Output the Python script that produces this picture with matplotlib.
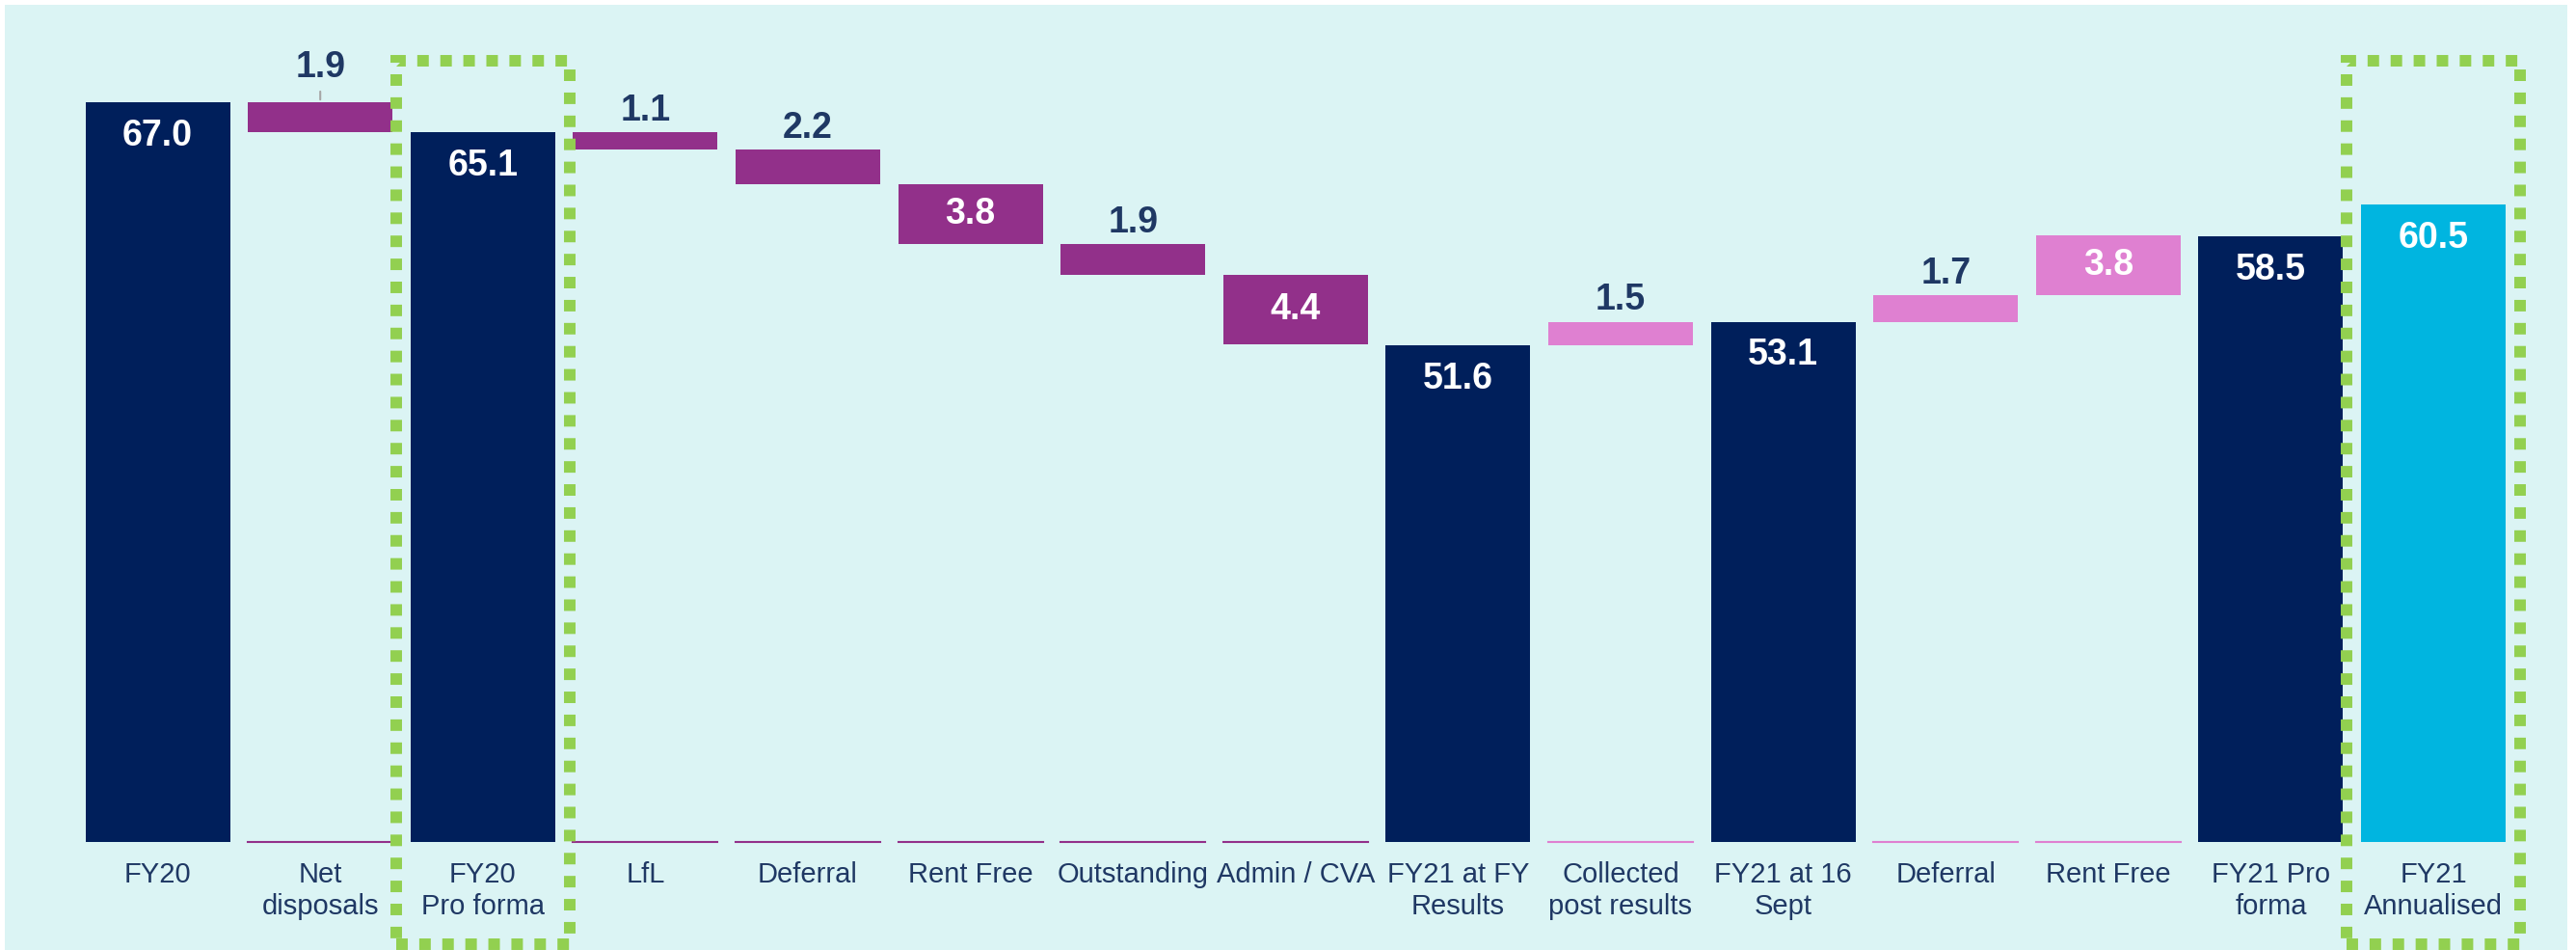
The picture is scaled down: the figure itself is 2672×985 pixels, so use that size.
import matplotlib.pyplot as plt
from matplotlib.patches import Rectangle
import numpy as np

plt.rcParams['font.family'] = ['Liberation Sans', 'DejaVu Sans']

# data
categories = ["FY20", "Net\ndisposals", "FY20\nPro forma", "LfL", "Deferral", "Rent Free",
              "Outstanding", "Admin / CVA", "FY21 at FY\nResults", "Collected\npost results",
              "FY21 at 16\nSept", "Deferral", "Rent Free", "FY21 Pro\nforma", "FY21\nAnnualised"]
values = [67.0, -1.9, 65.1, -1.1, -2.2, -3.8, -1.9, -4.4, 51.6, 1.5, 53.1, 1.7, 3.8, 58.5, 60.5]
kinds = ["total", "down", "total", "down", "down", "down", "down", "down", "total",
         "up", "total", "up", "up", "total", "annual"]
highlighted = [2, 14]

axis_min = 20.2

colors = {"total": "#001F5B", "down": "#92308A", "up": "#DF80D1", "annual": "#00B5E0"}
text_dark = "#1F3864"
bg = "#DBF4F4"
green = "#92D050"

W, H = 2672, 985
fig = plt.figure(figsize=(W / 100, H / 100), dpi=100)
fig.patches.append(Rectangle((5 / W, 0), 2658 / W, 980 / H, transform=fig.transFigure,
                             facecolor=bg, edgecolor="none", zorder=-10))

ax = fig.add_axes([0, 0, 1, 1])
ax.set_facecolor("none")
for s in ax.spines.values():
    s.set_visible(False)
ax.set_xticks([])
ax.set_yticks([])

# pixel mapping: bar centres 163.6 + 168.6*i, 16.38 px per unit, value 67 at px 106
slot = 168.6
ax.set_xlim(-163.6 / slot, (W - 163.6) / slot)
ppu = 16.38
ax.set_ylim(67 - (H - 106) / ppu, 67 + 106 / ppu)

x = np.arange(len(categories))
width = 0.89
vsize = 27
level = 0
for i, (v, k) in enumerate(zip(values, kinds)):
    c = colors[k]
    if k in ("total", "annual"):
        level = v
        ax.bar(i, v - axis_min, bottom=axis_min, width=width, color=c, zorder=2)
        ax.annotate(f"{v:.1f}", (i, v), xytext=(0, -25), textcoords="offset points",
                    ha="center", va="center", color="white", fontsize=vsize, fontweight="bold", zorder=4)
    else:
        lo = level + v if v < 0 else level
        hi = lo + abs(v)
        level = level + v
        ax.bar(i, hi - lo, bottom=lo, width=width, color=c, zorder=2)
        # thin baseline line under the floating bar
        ax.plot([i - width / 2, i + width / 2], [axis_min, axis_min], color=c, lw=1.5, zorder=2)
        if abs(v) >= 3:
            ax.text(i, (lo + hi) / 2, f"{abs(v):.1f}", ha="center", va="center",
                    color="white", fontsize=vsize, fontweight="bold", zorder=4)
        elif i == 1:
            ax.annotate("", (i, hi), xytext=(0, 10), textcoords="offset points",
                        arrowprops=dict(arrowstyle="-", color="#A6A6A6", lw=1.5))
            ax.annotate(f"{abs(v):.1f}", (i, hi), xytext=(0, 26), textcoords="offset points",
                        ha="center", va="center", color=text_dark, fontsize=vsize, fontweight="bold")
        else:
            ax.annotate(f"{abs(v):.1f}", (i, hi), xytext=(0, 16), textcoords="offset points",
                        ha="center", va="center", color=text_dark, fontsize=vsize, fontweight="bold")

for i, lab in enumerate(categories):
    ax.annotate(lab, (i, axis_min), xytext=(0, -15), textcoords="offset points",
                ha="center", va="top", color=text_dark, fontsize=21, linespacing=1.22)

# green dotted highlight boxes
for i in highlighted:
    ax.add_patch(Rectangle((i - 0.535, 13.7), 1.07, 69.6 - 13.7, fill=False,
                           edgecolor=green, lw=8.6, linestyle=(0, (1, 1)),
                           clip_on=False, zorder=3))

fig.savefig("out.png", dpi=100)
